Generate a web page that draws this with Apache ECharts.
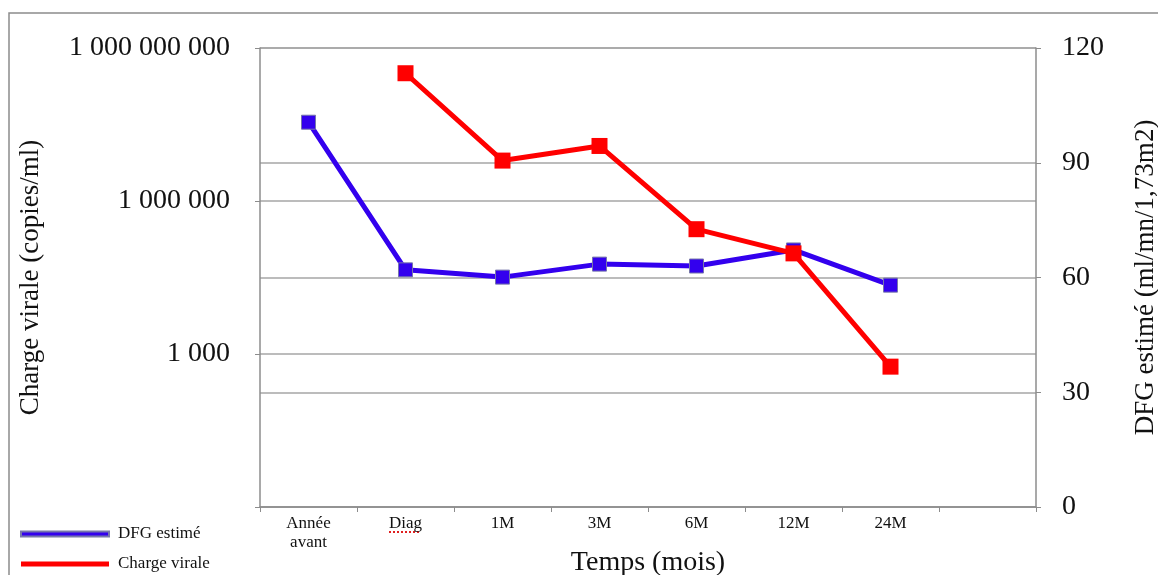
<!DOCTYPE html>
<html>
<head>
<meta charset="utf-8">
<script src="https://cdn.jsdelivr.net/npm/echarts@6/dist/echarts.min.js"></script>
<style>
  html, body { margin: 0; padding: 0; background: #fff; }
  #chart { width: 1158px; height: 575px; }
</style>
</head>
<body>
<div id="chart"></div>
<script>
// données
const categories = ['Année\navant', 'Diag', '1M', '3M', '6M', '12M', '24M', '']
const dfgEstime = [100.6, 62, 60.1, 63.5, 63, 67.2, 58, null]
const chargeVirale = [null, 3.2e8, 6.2e6, 1.2e7, 2.8e5, 9.4e4, 565, null]

const serif = 'Liberation Serif'
const gridColor = '#a6a6a6'

const chart = echarts.init(document.getElementById('chart'))
let option = {
  animation: false,
  textStyle: { fontFamily: serif, color: '#111' },
  grid: { left: 260, right: 122, top: 48, bottom: 68, outerBoundsMode: 'none', containLabel: false },
  legend: {
    orient: 'vertical',
    left: 20,
    top: 524,
    padding: 0,
    itemWidth: 88,
    itemHeight: 5,
    itemGap: 10,
    textStyle: { fontFamily: serif, fontSize: 17, color: '#111', lineHeight: 20, padding: [0, 0, 0, 4] },
    data: [
      { name: 'DFG estimé', icon: 'rect' },
      { name: 'Charge virale', icon: 'rect' }
    ]
  },
  xAxis: {
    type: 'category',
    data: categories,
    boundaryGap: true,
    name: 'Temps (mois)',
    nameLocation: 'middle',
    nameGap: 42,
    nameMoveOverlap: false,
    nameTextStyle: { fontFamily: serif, fontSize: 28, color: '#111' },
    axisLine: { lineStyle: { color: '#8c8c8c', width: 1.5 } },
    axisTick: { show: true, length: 5, alignWithLabel: false, lineStyle: { color: '#8c8c8c' } },
    axisLabel: { fontFamily: serif, fontSize: 17, color: '#111', margin: 7, lineHeight: 19, interval: 0 }
  },
  yAxis: [
    {
      type: 'log',
      logBase: 10,
      min: 1,
      max: 1e9,
      interval: 3,
      name: 'Charge virale (copies/ml)',
      nameLocation: 'middle',
      nameGap: 216,
      nameMoveOverlap: false,
      nameTextStyle: { fontFamily: serif, fontSize: 27, color: '#111' },
      axisLine: { show: true, lineStyle: { color: '#8c8c8c', width: 1.5 } },
      axisTick: { show: true, length: 5, lineStyle: { color: '#8c8c8c' } },
      splitLine: { show: true, lineStyle: { color: gridColor, width: 1.5 } },
      axisLabel: {
        fontFamily: serif,
        fontSize: 28,
        color: '#111',
        margin: 30,
        formatter: v => (v < 10 ? '' : Math.round(v).toString().replace(/\B(?=(\d{3})+(?!\d))/g, ' '))
      }
    },
    {
      type: 'value',
      min: 0,
      max: 120,
      interval: 30,
      name: 'DFG estimé (ml/mn/1,73m2)',
      nameLocation: 'middle',
      nameGap: 96,
      nameMoveOverlap: false,
      nameRotate: 90,
      nameTextStyle: { fontFamily: serif, fontSize: 27, color: '#111' },
      axisLine: { show: true, lineStyle: { color: '#8c8c8c', width: 1.5 } },
      axisTick: { show: true, length: 5, lineStyle: { color: '#8c8c8c' } },
      splitLine: { show: true, lineStyle: { color: gridColor, width: 1.5 } },
      axisLabel: { fontFamily: serif, fontSize: 28, color: '#111', margin: 26 }
    }
  ],
  series: [
    {
      name: 'DFG estimé',
      type: 'line',
      yAxisIndex: 1,
      data: dfgEstime,
      color: '#3300ee',
      symbol: 'rect',
      symbolSize: 14,
      lineStyle: { width: 5, color: '#3300ee' },
      itemStyle: { color: '#3300ee', borderColor: '#7777aa', borderWidth: 1 }
    },
    {
      name: 'Charge virale',
      type: 'line',
      yAxisIndex: 0,
      data: chargeVirale,
      color: '#ff0000',
      symbol: 'rect',
      symbolSize: 16,
      lineStyle: { width: 5, color: '#ff0000' },
      itemStyle: { color: '#ff0000' }
    }
  ],
  graphic: [
    {
      type: 'rect',
      shape: { x: 9, y: 13, width: 1200, height: 600 },
      style: { fill: 'none', stroke: '#8c8c8c', lineWidth: 1.5 },
      silent: true
    },
    {
      type: 'line',
      shape: { x1: 389, y1: 532, x2: 421, y2: 532 },
      style: { stroke: '#e02020', lineWidth: 2, lineDash: [2, 2] },
      silent: true
    }
  ]
}
chart.setOption(option)
</script>
</body>
</html>
